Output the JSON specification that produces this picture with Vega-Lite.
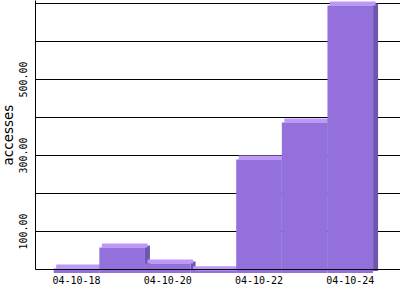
{
  "$schema": "https://vega.github.io/schema/vega-lite/v6.json",
  "width": 365,
  "height": 269,
  "autosize": "none",
  "padding": {"left": 35, "top": 0, "right": 0, "bottom": 31},
  "background": "white",
  "config": {"view": {"stroke": null}},
  "data": {"values": [
    {"date": "04-10-18", "value": 12},
    {"date": "04-10-19", "value": 67},
    {"date": "04-10-20", "value": 25},
    {"date": "04-10-21", "value": 7},
    {"date": "04-10-22", "value": 299},
    {"date": "04-10-23", "value": 396},
    {"date": "04-10-24", "value": 704}
  ]},
  "encoding": {
    "x": {"field": "date", "type": "ordinal",
      "scale": {"paddingInner": 0, "paddingOuter": 0.5, "align": 0.41},
      "axis": {"title": null, "values": ["04-10-18", "04-10-20", "04-10-22", "04-10-24"],
        "labelAngle": 0, "ticks": false, "labelPadding": 6, "labelFont": "DejaVu Sans Mono",
        "labelFontSize": 10, "labelColor": "black", "domainColor": "black", "domainWidth": 1,
        "zindex": 1, "grid": false}},
    "y": {"field": "value", "type": "quantitative",
      "scale": {"domain": [0, 708], "nice": false, "zero": true},
      "axis": {"title": "accesses", "titleFont": "DejaVu Sans", "titleFontSize": 13.5,
        "titleFontWeight": "normal", "titleColor": "black", "titlePadding": 3,
        "values": [100, 200, 300, 400, 500, 600, 700], "format": ".2f",
        "labelExpr": "(datum.value == 100 || datum.value == 300 || datum.value == 500) ? datum.label : ''",
        "labelAngle": 270, "labelAlign": "center", "labelBaseline": "bottom",
        "labelFont": "DejaVu Sans Mono", "labelFontSize": 10, "labelColor": "black",
        "labelPadding": 7, "ticks": false, "grid": true, "gridColor": "black",
        "gridOpacity": 1, "gridWidth": 1, "domainColor": "black", "domainWidth": 1}}
  },
  "layer": [
    {
      "mark": {"type": "bar", "color": "#6E56B0", "width": 5, "xOffset": 25.3, "yOffset": 2, "y2Offset": 2},
      "encoding": {"y2": {"datum": 0}}
    },
    {
      "mark": {"type": "bar", "color": "#BF97F9", "xOffset": 2.5, "x2Offset": 2.5, "yOffset": 0, "y2Offset": 4},
      "encoding": {"y2": {"field": "value"}}
    },
    {
      "mark": {"type": "bar", "color": "#9370DB", "yOffset": 4, "y2Offset": 4},
      "encoding": {"y2": {"datum": 0}}
    }
  ]
}
